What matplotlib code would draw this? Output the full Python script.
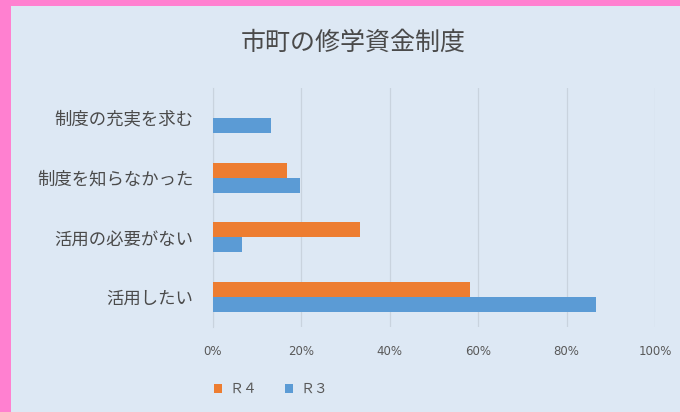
import matplotlib
matplotlib.use("Agg")
import matplotlib.pyplot as plt
import numpy as np
from matplotlib.patches import Rectangle, Patch

plt.rcParams['font.family'] = ['Noto Sans CJK JP', 'DejaVu Sans']

title = "市町の修学資金制度"
categories = ["制度の充実を求む", "制度を知らなかった", "活用の必要がない", "活用したい"]
series_names = ["Ｒ４", "Ｒ３"]
r4 = [0.0, 16.7, 33.3, 58.1]
r3 = [13.1, 19.7, 6.6, 86.7]
xticks = [0, 20, 40, 60, 80, 100]
xticklabels = ["0%", "20%", "40%", "60%", "80%", "100%"]

c_r4 = "#ED7D31"
c_r3 = "#5B9BD5"
bg = "#DDE8F4"
pink = "#FF80D0"
txt = "#4A4A4A"

fig = plt.figure(figsize=(6.8, 4.12), dpi=100)
fig.patch.set_facecolor(pink)
fig.add_artist(Rectangle((11/680, 0), 1 - 11/680, 1 - 6/412, transform=fig.transFigure,
                         facecolor=bg, edgecolor="none", zorder=0))

ax = fig.add_axes([213/680, 1 - 327/412, 442/680, 239/412])
ax.set_facecolor("none")
y = np.arange(len(categories))
h = 0.25
ax.barh(y - h/2, r4, height=h, color=c_r4, zorder=3)
ax.barh(y + h/2, r3, height=h, color=c_r3, zorder=3)
ax.set_ylim(len(categories) - 0.5, -0.5)
ax.set_xlim(0, 100)
ax.set_yticks(y)
ax.set_yticklabels(categories, fontsize=12.5, color=txt)
ax.set_xticks(xticks)
ax.set_xticklabels(xticklabels, fontsize=8.5, color="#595959", family=['DejaVu Sans'])
ax.tick_params(axis='both', length=0)
ax.tick_params(axis='x', pad=13)
ax.tick_params(axis='y', pad=14)
ax.grid(axis='x', color="#C9D3DE", linewidth=0.9, zorder=0)
for s in ["top", "right", "bottom"]:
    ax.spines[s].set_visible(False)
ax.spines["left"].set_color("#C9D3DE")

fig.text(0.519, 1 - 43/412, title, ha="center", va="center", fontsize=18, color="#4A4A4A")

handles = [Patch(facecolor=c_r4), Patch(facecolor=c_r3)]
fig.legend(handles, series_names, loc="center", bbox_to_anchor=(271/680, 1 - 389/412),
           ncol=2, frameon=False, fontsize=10, handlelength=0.6, handleheight=0.6,
           handletextpad=0.5, columnspacing=2.0, labelcolor="#595959")

fig.savefig("out.png", dpi=100, facecolor=fig.get_facecolor())
